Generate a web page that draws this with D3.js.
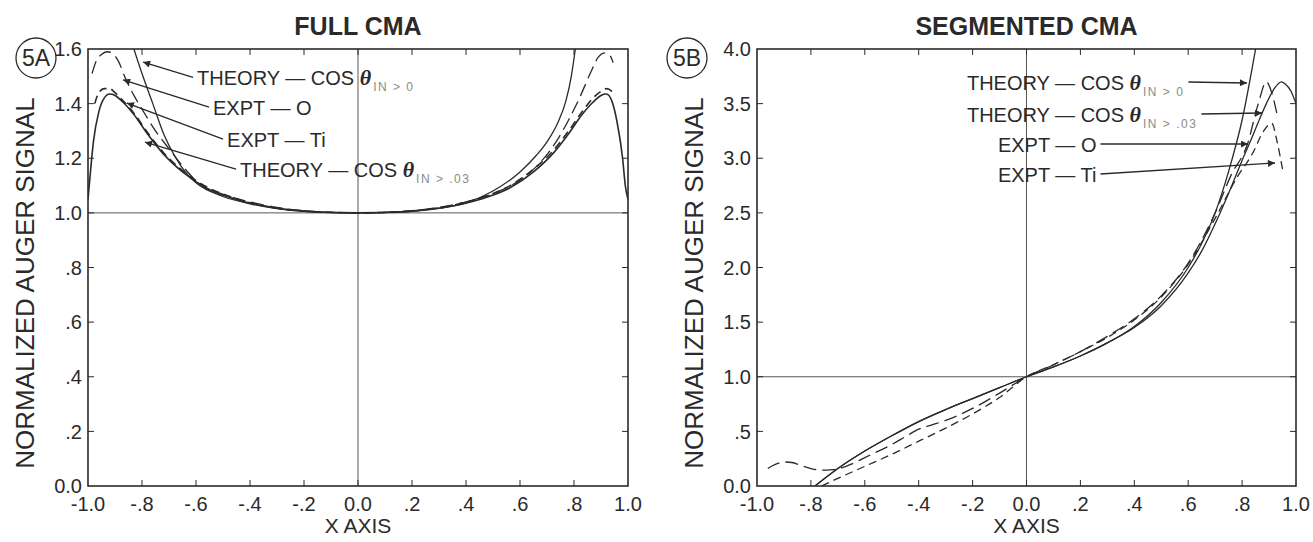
<!DOCTYPE html>
<html>
<head>
<meta charset="utf-8">
<title>Full CMA / Segmented CMA</title>
<script src="https://d3js.org/d3.v7.min.js"></script>
<style>
  html, body { margin: 0; padding: 0; background: #fff; }
  svg text { font-family: "Liberation Sans", Arial, Helvetica, sans-serif; fill: #2a2a2a; }
</style>
</head>
<body>
<svg id="chart" width="1313" height="542"></svg>
<script>
// ---------- data ----------
const xTicks = [-1, -0.8, -0.6, -0.4, -0.2, 0, 0.2, 0.4, 0.6, 0.8, 1];
const xTickLabels = ["-1.0", "-.8", "-.6", "-.4", "-.2", "0.0", ".2", ".4", ".6", ".8", "1.0"];
const fullYTicks = [0, 0.2, 0.4, 0.6, 0.8, 1.0, 1.2, 1.4, 1.6];
const fullYTickLabels = ["0.0", ".2", ".4", ".6", ".8", "1.0", "1.2", "1.4", "1.6"];
const segYTicks = [0, 0.5, 1, 1.5, 2, 2.5, 3, 3.5, 4];
const segYTickLabels = ["0.0", ".5", "1.0", "1.5", "2.0", "2.5", "3.0", "3.5", "4.0"];

// FULL CMA
const fullTheory0X = [-0.83, -0.8, -0.76, -0.72, -0.68, -0.64, -0.6, -0.5, -0.4, -0.3, -0.2, -0.1, 0, 0.1, 0.2, 0.3, 0.4, 0.5, 0.6, 0.66, 0.7, 0.74, 0.77, 0.79, 0.805];
const fullTheory0Y = [1.6, 1.51, 1.40, 1.29, 1.21, 1.15, 1.11, 1.06, 1.033, 1.016, 1.006, 1.001, 1.0, 1.001, 1.006, 1.017, 1.037, 1.08, 1.15, 1.21, 1.26, 1.33, 1.41, 1.5, 1.6];
const fullTheory03X = [-1.0, -0.99, -0.98, -0.96, -0.94, -0.92, -0.9, -0.87, -0.83, -0.78, -0.72, -0.65, -0.56, -0.46, -0.36, -0.26, -0.16, 0, 0.16, 0.26, 0.36, 0.46, 0.56, 0.65, 0.72, 0.78, 0.83, 0.87, 0.9, 0.92, 0.94, 0.96, 0.98, 0.99, 1.0];
const fullTheory03Y = [1.05, 1.16, 1.26, 1.37, 1.42, 1.435, 1.43, 1.405, 1.36, 1.29, 1.215, 1.15, 1.09, 1.052, 1.027, 1.012, 1.004, 1.0, 1.004, 1.012, 1.027, 1.052, 1.09, 1.15, 1.215, 1.29, 1.36, 1.405, 1.43, 1.435, 1.41, 1.33, 1.2, 1.1, 1.05];
const fullExptOX = [-0.985, -0.97, -0.95, -0.93, -0.91, -0.89, -0.86, -0.83, -0.8, -0.75, -0.7, -0.64, -0.58, -0.5, -0.4, -0.3, -0.2, -0.1, 0, 0.1, 0.2, 0.3, 0.4, 0.5, 0.6, 0.68, 0.74, 0.78, 0.82, 0.86, 0.89, 0.91, 0.93, 0.945];
const fullExptOY = [1.51, 1.555, 1.58, 1.59, 1.585, 1.56, 1.49, 1.43, 1.38, 1.30, 1.235, 1.16, 1.10, 1.068, 1.04, 1.02, 1.008, 1.002, 1.0, 1.002, 1.008, 1.02, 1.04, 1.07, 1.12, 1.19, 1.27, 1.34, 1.42, 1.51, 1.57, 1.585, 1.58, 1.55];
const fullExptTiX = [-0.975, -0.96, -0.94, -0.92, -0.9, -0.87, -0.83, -0.78, -0.72, -0.65, -0.56, -0.46, -0.36, -0.26, -0.16, 0, 0.16, 0.26, 0.36, 0.46, 0.56, 0.65, 0.72, 0.78, 0.83, 0.87, 0.9, 0.92, 0.94, 0.95];
const fullExptTiY = [1.40, 1.44, 1.455, 1.455, 1.44, 1.41, 1.365, 1.295, 1.22, 1.155, 1.095, 1.055, 1.028, 1.012, 1.004, 1.0, 1.004, 1.013, 1.03, 1.057, 1.098, 1.16, 1.225, 1.30, 1.37, 1.42, 1.445, 1.455, 1.445, 1.43];

// SEGMENTED CMA
const segTheory0X = [-0.785, -0.7, -0.6, -0.5, -0.4, -0.3, -0.2, -0.1, 0, 0.1, 0.2, 0.3, 0.4, 0.5, 0.6, 0.65, 0.7, 0.75, 0.8, 0.85];
const segTheory0Y = [0, 0.16, 0.32, 0.46, 0.59, 0.70, 0.80, 0.90, 1.0, 1.09, 1.19, 1.31, 1.46, 1.68, 2.0, 2.22, 2.5, 2.88, 3.35, 4.0];
const segTheory03X = [-0.785, -0.7, -0.6, -0.5, -0.4, -0.3, -0.2, -0.1, 0, 0.1, 0.2, 0.3, 0.4, 0.5, 0.6, 0.65, 0.7, 0.75, 0.8, 0.83, 0.86, 0.89, 0.92, 0.945, 0.96, 0.98, 1.0];
const segTheory03Y = [0, 0.16, 0.32, 0.46, 0.59, 0.70, 0.80, 0.90, 1.0, 1.09, 1.19, 1.31, 1.45, 1.65, 1.95, 2.15, 2.4, 2.68, 2.98, 3.15, 3.33, 3.5, 3.64, 3.7, 3.68, 3.62, 3.5];
const segExptOX = [-0.96, -0.93, -0.9, -0.87, -0.84, -0.8, -0.76, -0.72, -0.68, -0.65, -0.6, -0.5, -0.45, -0.4, -0.35, -0.3, -0.2, -0.1, 0, 0.1, 0.2, 0.3, 0.4, 0.5, 0.6, 0.7, 0.76, 0.82, 0.86, 0.89, 0.91, 0.93];
const segExptOY = [0.16, 0.2, 0.22, 0.215, 0.19, 0.16, 0.145, 0.15, 0.17, 0.2, 0.26, 0.38, 0.45, 0.52, 0.56, 0.6, 0.71, 0.85, 1.0, 1.11, 1.23, 1.37, 1.53, 1.74, 2.04, 2.5, 2.85, 3.13, 3.5, 3.7, 3.6, 3.4];
const segExptTiX = [-0.76, -0.7, -0.6, -0.5, -0.4, -0.3, -0.2, -0.1, 0, 0.1, 0.2, 0.3, 0.4, 0.5, 0.6, 0.7, 0.78, 0.84, 0.88, 0.91, 0.93, 0.95];
const segExptTiY = [0, 0.07, 0.18, 0.29, 0.41, 0.53, 0.66, 0.81, 1.0, 1.11, 1.23, 1.36, 1.52, 1.73, 2.03, 2.45, 2.82, 3.05, 3.25, 3.32, 3.15, 2.9];

// annotations (text anchor and arrow tip, in data units)
const noteText = ["THEORY — COS ", "EXPT — O", "EXPT — Ti", "THEORY — COS "];
const noteSub = ["IN > 0", "", "", "IN > .03"];
const fullNoteX = [-0.596, -0.537, -0.485, -0.437];
const fullNoteY = [1.467, 1.358, 1.241, 1.131];
const fullTipX = [-0.796, -0.87, -0.856, -0.789];
const fullTipY = [1.552, 1.487, 1.402, 1.259];

const segNoteText = ["THEORY — COS ", "THEORY — COS ", "EXPT — O", "EXPT — Ti"];
const segNoteSub = ["IN > 0", "IN > .03", "", ""];
const segNoteX = [-0.221, -0.221, -0.106, -0.106];
const segNoteY = [3.625, 3.332, 3.057, 2.783];
const segTipX = [0.818, 0.874, 0.822, 0.922];
const segTipY = [3.689, 3.414, 3.13, 2.957];

// ---------- drawing ----------
const svg = d3.select("#chart");
const plotTop = 49, plotBottom = 486;
const ink = "#2a2a2a";

svg.append("defs").append("marker")
  .attr("id", "arrow")
  .attr("viewBox", "0 0 10 10")
  .attr("refX", 10).attr("refY", 5)
  .attr("markerUnits", "userSpaceOnUse")
  .attr("markerWidth", 12).attr("markerHeight", 7)
  .attr("orient", "auto")
  .append("path").attr("d", "M0,0 L10,5 L0,10 z").attr("fill", ink);

function drawPanel(p) {
  const x = d3.scaleLinear().domain([-1, 1]).range([p.left, p.right]);
  const y = d3.scaleLinear().domain([0, p.yMax]).range([plotBottom, plotTop]);
  const g = svg.append("g");

  g.append("clipPath").attr("id", p.id + "-clip")
    .append("rect").attr("x", p.left).attr("y", plotTop)
    .attr("width", p.right - p.left).attr("height", plotBottom - plotTop);

  // reference lines at x = 0 and y = 1
  g.append("line").attr("x1", x(0)).attr("x2", x(0)).attr("y1", plotTop).attr("y2", plotBottom)
    .attr("stroke", "#444").attr("stroke-width", 0.9);
  g.append("line").attr("x1", p.left).attr("x2", p.right).attr("y1", y(1)).attr("y2", y(1))
    .attr("stroke", "#444").attr("stroke-width", 0.9);

  // frame
  g.append("rect").attr("x", p.left).attr("y", plotTop)
    .attr("width", p.right - p.left).attr("height", plotBottom - plotTop)
    .attr("fill", "none").attr("stroke", ink).attr("stroke-width", 1.6);

  // inward ticks
  const tl = 6;
  xTicks.slice(1, -1).forEach(v => {
    g.append("line").attr("x1", x(v)).attr("x2", x(v)).attr("y1", plotBottom).attr("y2", plotBottom - tl).attr("stroke", ink);
    g.append("line").attr("x1", x(v)).attr("x2", x(v)).attr("y1", plotTop).attr("y2", plotTop + tl).attr("stroke", ink);
  });
  p.yTicks.slice(1, -1).forEach(v => {
    g.append("line").attr("x1", p.left).attr("x2", p.left + tl).attr("y1", y(v)).attr("y2", y(v)).attr("stroke", ink);
    g.append("line").attr("x1", p.right).attr("x2", p.right - tl).attr("y1", y(v)).attr("y2", y(v)).attr("stroke", ink);
  });

  // tick labels
  g.selectAll(".xl").data(xTicks).enter().append("text")
    .attr("x", d => x(d)).attr("y", 511)
    .attr("text-anchor", "middle").attr("font-size", 20)
    .text((d, i) => xTickLabels[i]);
  g.selectAll(".yl").data(p.yTicks).enter().append("text")
    .attr("x", p.left - 6).attr("y", d => y(d)).attr("dy", "0.36em")
    .attr("text-anchor", "end").attr("font-size", 20)
    .text((d, i) => p.yTickLabels[i]);

  // titles
  g.append("text").attr("x", (p.left + p.right) / 2).attr("y", 35)
    .attr("text-anchor", "middle").attr("font-size", 25).attr("font-weight", "bold")
    .text(p.title);
  g.append("text").attr("x", (p.left + p.right) / 2).attr("y", 533)
    .attr("text-anchor", "middle").attr("font-size", 21).text("X AXIS");
  g.append("text")
    .attr("transform", `translate(${p.yTitleX},${p.yTitleY}) rotate(-90)`)
    .attr("text-anchor", "middle").attr("font-size", 26)
    .text("NORMALIZED AUGER SIGNAL");

  // panel tag
  g.append("circle").attr("cx", p.tagX).attr("cy", p.tagY).attr("r", 20)
    .attr("fill", "none").attr("stroke", ink).attr("stroke-width", 1.3);
  g.append("text").attr("x", p.tagX).attr("y", p.tagY).attr("dy", "0.36em")
    .attr("text-anchor", "middle").attr("font-size", 23).text(p.tag);

  // curves
  const line = d3.line().x(d => x(d[0])).y(d => y(d[1])).curve(d3.curveMonotoneX);
  const curves = g.append("g").attr("clip-path", `url(#${p.id}-clip)`);
  p.series.forEach(s => {
    curves.append("path")
      .datum(d3.zip(s.x, s.y))
      .attr("d", line)
      .attr("fill", "none").attr("stroke", ink)
      .attr("stroke-width", s.w || 1.3)
      .attr("stroke-dasharray", s.dash || null);
  });

  // annotations
  p.notes.forEach(n => {
    const t = g.append("text").attr("x", x(n.x)).attr("y", y(n.y)).attr("font-size", 20);
    t.append("tspan").text(n.text);
    if (n.sub) {
      t.append("tspan").attr("font-style", "italic").attr("font-weight", "bold")
        .attr("font-family", "'Liberation Serif', serif").attr("font-size", 22).text("θ");
      t.append("tspan").attr("font-size", 12).attr("dy", 6).attr("dx", 2)
        .attr("letter-spacing", 1.5)
        .style("fill", "#8a8a8a").text(n.sub);
    }
    const bb = t.node().getBBox();
    const sx = p.arrowFromEnd ? bb.x + bb.width + 4 : bb.x - 4;
    const sy = y(n.y) - 8;
    g.append("line").attr("x1", sx).attr("y1", sy)
      .attr("x2", x(n.tx)).attr("y2", y(n.ty))
      .attr("stroke", ink).attr("stroke-width", 1.4)
      .attr("marker-end", "url(#arrow)");
  });
}

const zipNotes = (txt, sub, nx, ny, tx, ty) => txt.map((t, i) => ({
  text: t, sub: sub[i], x: nx[i], y: ny[i], tx: tx[i], ty: ty[i]
}));

drawPanel({
  id: "full", left: 88, right: 628, yMax: 1.6,
  yTicks: fullYTicks, yTickLabels: fullYTickLabels,
  title: "FULL CMA", yTitleX: 34, yTitleY: 283,
  tag: "5A", tagX: 36, tagY: 58,
  arrowFromEnd: false,
  series: [
    { x: fullTheory0X, y: fullTheory0Y },
    { x: fullTheory03X, y: fullTheory03Y, w: 1.6 },
    { x: fullExptOX, y: fullExptOY, dash: "13,6" },
    { x: fullExptTiX, y: fullExptTiY, dash: "8,5", w: 1.6 }
  ],
  notes: zipNotes(noteText, noteSub, fullNoteX, fullNoteY, fullTipX, fullTipY)
});

drawPanel({
  id: "seg", left: 757, right: 1296, yMax: 4,
  yTicks: segYTicks, yTickLabels: segYTickLabels,
  title: "SEGMENTED CMA", yTitleX: 703, yTitleY: 283,
  tag: "5B", tagX: 687, tagY: 58,
  arrowFromEnd: true,
  series: [
    { x: segTheory0X, y: segTheory0Y },
    { x: segTheory03X, y: segTheory03Y },
    { x: segExptOX, y: segExptOY, dash: "13,6" },
    { x: segExptTiX, y: segExptTiY, dash: "8,5" }
  ],
  notes: zipNotes(segNoteText, segNoteSub, segNoteX, segNoteY, segTipX, segTipY)
});
</script>
</body>
</html>
